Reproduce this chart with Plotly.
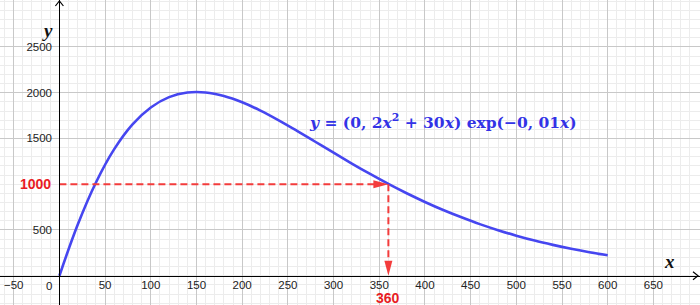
import plotly.graph_objects as go

x_vals = [0, 20, 40, 60, 80, 100, 120, 140, 160, 180, 200, 220, 240, 260, 280, 300,
          320, 340, 360, 380, 400, 420, 440, 460, 480, 500, 520, 540, 560, 580, 600]
y_vals = [0, 557, 1019, 1383, 1654, 1839, 1952, 2002, 2003, 1964, 1895, 1804, 1698,
          1583, 1464, 1344, 1226, 1112, 1003, 901, 806, 718, 638, 564, 498, 438, 384,
          337, 294, 256, 223]
x_ticks = [-50, 50, 100, 150, 200, 250, 300, 350, 400, 450, 500, 550, 600, 650]
y_ticks = [500, 1500, 2000, 2500]
target_y = 1000
target_x = 360

BLUE = "rgb(70,70,240)"
RED = "rgb(243,60,60)"
RED_TXT = "rgb(232,28,36)"
XR = [-65, 701]
YR = [-320, 3013]

fig = go.Figure()
fig.add_trace(go.Scatter(x=x_vals, y=y_vals, mode="lines",
                         line=dict(color=BLUE, width=2.6, shape="spline"),
                         hoverinfo="skip", showlegend=False))
# dashed guides
fig.add_trace(go.Scatter(x=[0, target_x - 14], y=[target_y, target_y], mode="lines",
                         line=dict(color=RED, width=2, dash="7px,4px"),
                         hoverinfo="skip", showlegend=False))
fig.add_trace(go.Scatter(x=[target_x, target_x], y=[target_y, 150], mode="lines",
                         line=dict(color=RED, width=2, dash="7px,4px"),
                         hoverinfo="skip", showlegend=False))

shapes = [
    dict(type="path", xref="x", yref="y", xsizemode="pixel", ysizemode="pixel",
         xanchor=target_x, yanchor=target_y, path="M 0 0 L -15 4 L -15 -4 Z",
         fillcolor=RED, line=dict(width=0)),
    dict(type="path", xref="x", yref="y", xsizemode="pixel", ysizemode="pixel",
         xanchor=target_x, yanchor=0, path="M 0 0 L -4 15 L 4 15 Z",
         fillcolor=RED, line=dict(width=0)),
    dict(type="path", xref="x", yref="y", xsizemode="pixel", ysizemode="pixel",
         xanchor=0, yanchor=YR[1], path="M -4 -6 L 0 -1 L 4 -6",
         line=dict(color="black", width=1.2)),
    dict(type="path", xref="x", yref="y", xsizemode="pixel", ysizemode="pixel",
         xanchor=XR[1], yanchor=0, path="M -7 4 L -2 0 L -7 -4",
         line=dict(color="black", width=1.2)),
]

annotations = [
    dict(x=0, y=target_y, xref="x", yref="y", text="<b>1000</b>", showarrow=False,
         xanchor="right", yanchor="middle", xshift=-6,
         font=dict(family="Liberation Sans", size=14, color=RED_TXT)),
    dict(x=target_x, y=0, xref="x", yref="y", text="<b>360</b>", showarrow=False,
         xanchor="center", yanchor="middle", yshift=-22,
         font=dict(family="Liberation Sans", size=14, color=RED_TXT)),
    dict(x=0, y=0, xref="x", yref="y", text="0", showarrow=False,
         xanchor="right", yanchor="middle", xshift=-5, yshift=-10,
         font=dict(family="Liberation Sans", size=11.5, color="#222")),
    dict(x=420, y=1680, xref="x", yref="y",
         text="<b><i>y</i> = (0, 2<i>x</i><sup>2</sup> + 30<i>x</i>) exp(−0, 01<i>x</i>)</b>",
         showarrow=False, xanchor="center", yanchor="middle",
         font=dict(family="DejaVu Serif", size=15.5, color="rgb(50,50,230)")),
    dict(x=0, y=2680, xref="x", yref="y", text="<b><i>y</i></b>", showarrow=False,
         xanchor="right", yanchor="middle", xshift=-4,
         font=dict(family="Liberation Serif", size=19, color="#111")),
    dict(x=668, y=0, xref="x", yref="y", text="<b><i>x</i></b>", showarrow=False,
         xanchor="center", yanchor="bottom", yshift=2,
         font=dict(family="Liberation Serif", size=19, color="#111")),
]

fig.update_layout(
    width=700, height=305, margin=dict(l=0, r=0, t=0, b=0),
    plot_bgcolor="white", paper_bgcolor="white",
    shapes=shapes, annotations=annotations,
    xaxis=dict(range=XR, anchor="free", position=(YR[0] * -1) / (YR[1] - YR[0]),
               tickvals=x_ticks, ticks="", showline=True, linecolor="black", linewidth=1.2,
               showgrid=True, gridcolor="rgb(200,200,200)", gridwidth=1,
               zeroline=False, ticklabelstandoff=-2,
               minor=dict(dtick=10, tick0=0, showgrid=True, gridcolor="rgb(236,236,236)", gridwidth=1),
               tickfont=dict(family="Liberation Sans", size=11.5, color="#222")),
    yaxis=dict(range=YR, anchor="free", position=(-XR[0]) / (XR[1] - XR[0]),
               tickvals=y_ticks, ticks="", showline=True, linecolor="black", linewidth=1.2,
               showgrid=True, gridcolor="rgb(200,200,200)", gridwidth=1,
               zeroline=False, ticklabelstandoff=5,
               minor=dict(dtick=100, tick0=0, showgrid=True, gridcolor="rgb(236,236,236)", gridwidth=1),
               tickfont=dict(family="Liberation Sans", size=11.5, color="#222")),
)

fig.write_html("out.html")
